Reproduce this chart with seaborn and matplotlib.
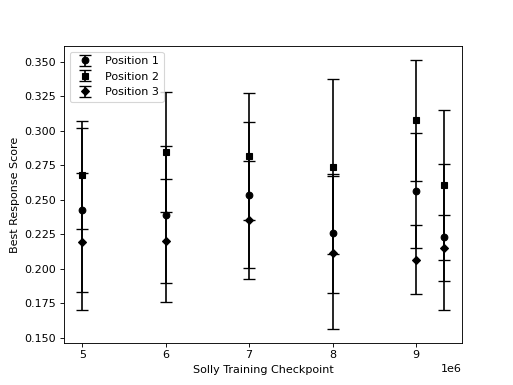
import numpy as np
import pandas as pd
import matplotlib
matplotlib.use("Agg")
import matplotlib.pyplot as plt
import seaborn as sns

# checkpoints (training steps)
checkpoints = [5e6, 6e6, 7e6, 8e6, 9e6, 9.33e6]

# mean best response score per position
pos1_mean = [0.2425, 0.2391, 0.2533, 0.2256, 0.2566, 0.2228]
pos2_mean = [0.2679, 0.2846, 0.2814, 0.2739, 0.3074, 0.2608]
pos3_mean = [0.2196, 0.2202, 0.2355, 0.2115, 0.2066, 0.2150]

# error (half width)
pos1_err = [0.0594, 0.0496, 0.0529, 0.0431, 0.0417, 0.0529]
pos2_err = [0.0388, 0.0435, 0.0459, 0.0636, 0.0440, 0.0544]
pos3_err = [0.0495, 0.0445, 0.0427, 0.0553, 0.0250, 0.0238]

labels = ["Position 1", "Position 2", "Position 3"]
markers = ["o", "s", "D"]

rows = []
for lab, means, errs in zip(labels, [pos1_mean, pos2_mean, pos3_mean],
                            [pos1_err, pos2_err, pos3_err]):
    for x, m, e in zip(checkpoints, means, errs):
        rows.append({"checkpoint": x, "score": m, "err": e, "position": lab})
df = pd.DataFrame(rows)

fig, ax = plt.subplots(figsize=(6.4125, 4.8125), dpi=80)

for lab, mk in zip(labels, markers):
    d = df[df["position"] == lab]
    ax.errorbar(d["checkpoint"], d["score"], yerr=d["err"], fmt=mk,
                color="black", markersize=6 if mk != "D" else 5.5,
                capsize=5, elinewidth=1.5, capthick=1.2, label=lab)

sns.despine(ax=ax, top=False, right=False)
ax.set_xlabel("Solly Training Checkpoint")
ax.set_ylabel("Best Response Score")
ax.legend(loc="upper left")

fig.savefig("out.png", dpi=80)
